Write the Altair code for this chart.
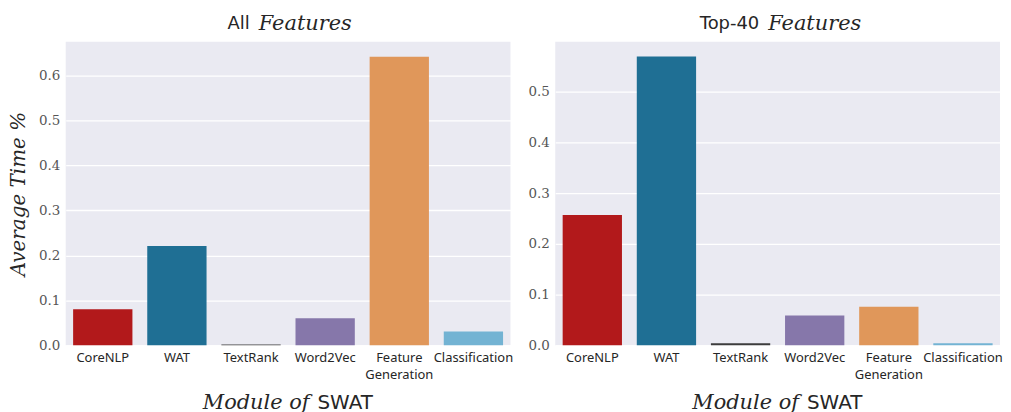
import altair as alt
import pandas as pd

modules = ["CoreNLP", "WAT", "TextRank", "Word2Vec", "Feature Generation", "Classification"]
all_times = [0.080, 0.221, 0.002, 0.060, 0.642, 0.031]
top40_times = [0.257, 0.569, 0.004, 0.059, 0.076, 0.004]
colors = ["#b2191b", "#1f6f94", "#3d3d3d", "#8677aa", "#e0975a", "#73b3d3"]

W, H = 447, 305
TXT = "#262626"
SANS = "DejaVu Sans"
LABEL_SANS = "Noto Sans"
SERIF_I = "DejaVu Serif"
SERIF = "DejaVu Serif"


def panel(vals, ymax, ticks, prefix, prefix_right, show_ytitle):
    df = pd.DataFrame({"module": modules, "time": vals})
    bars = alt.Chart(df).mark_bar().encode(
        x=alt.X(
            "module:N",
            sort=modules,
            scale=alt.Scale(paddingInner=0.2, paddingOuter=0.1),
            axis=alt.Axis(
                title=None, labelAngle=0, labelExpr="split(datum.label, ' ')",
                labelFont=LABEL_SANS, labelFontSize=13, labelColor=TXT,
                labelPadding=6, labelLineHeight=17, labelOverlap=False,
                ticks=False, domain=False, grid=False,
            ),
        ),
        y=alt.Y(
            "time:Q",
            scale=alt.Scale(domain=[0, ymax], nice=False, zero=True),
            axis=alt.Axis(
                values=ticks, format=".1f",
                title="Average Time %" if show_ytitle else None,
                titleFont=SERIF_I, titleFontStyle="italic", titleFontWeight="normal",
                titleFontSize=20, titleColor=TXT, titlePadding=10,
                labelFont=SERIF, labelFontSize=13.5, labelColor="#555555",
                labelPadding=6, ticks=False, domain=False,
                grid=True, gridColor="white", gridWidth=1.3,
            ),
        ),
        color=alt.Color("module:N", scale=alt.Scale(domain=modules, range=colors), legend=None),
    )
    t1 = alt.Chart(pd.DataFrame({"t": [prefix]})).mark_text(
        font=SANS, fontSize=18, color=TXT, align="right", baseline="middle"
    ).encode(text="t:N", x=alt.value(prefix_right), y=alt.value(-18))
    t2 = alt.Chart(pd.DataFrame({"t": ["Features"]})).mark_text(
        font=SERIF_I, fontStyle="italic", fontSize=21, color=TXT, align="left", baseline="middle"
    ).encode(text="t:N", x=alt.value(prefix_right + 9), y=alt.value(-18))
    x1 = alt.Chart(pd.DataFrame({"t": ["Module of"]})).mark_text(
        font=SERIF_I, fontStyle="italic", fontSize=21, color=TXT, align="right", baseline="middle"
    ).encode(text="t:N", x=alt.value(245), y=alt.value(H + 58))
    x2 = alt.Chart(pd.DataFrame({"t": ["SWAT"]})).mark_text(
        font=SANS, fontSize=20, color=TXT, align="left", baseline="middle"
    ).encode(text="t:N", x=alt.value(253), y=alt.value(H + 58))
    return alt.layer(bars, t1, t2, x1, x2).properties(width=W, height=H)


left = panel(all_times, 0.675, [0, 0.1, 0.2, 0.3, 0.4, 0.5, 0.6], "All", 185, True)
right = panel(top40_times, 0.598, [0, 0.1, 0.2, 0.3, 0.4, 0.5], "Top-40", 205, False)

chart = alt.hconcat(left, right, spacing=14).properties(
    padding={"left": 0, "top": 4, "right": 0, "bottom": 0}
).configure(background="white").configure_view(fill="#eaeaf2", strokeWidth=0)

chart.save("out.html", embed_options={"renderer": "svg", "actions": False})
